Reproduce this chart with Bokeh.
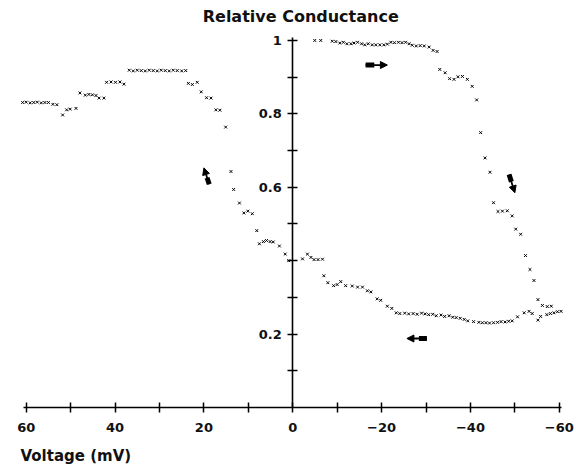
import numpy as np
from bokeh.plotting import figure
from bokeh.models import Range1d, LinearAxis, FixedTicker, Arrow, NormalHead, Title, Label, ColumnDataSource
from bokeh.embed import file_html
from bokeh.resources import INLINE

# ---- data ----
voltage_mV = [
    # left branch (+60 -> 0 mV)
    60.8, 60.0, 59.1, 58.3, 57.5, 56.6, 55.8, 55.0, 54.0, 53.1,
    51.8, 50.9, 50.1, 48.8,
    47.9, 46.7, 45.9, 45.1, 44.3, 43.6, 42.5,
    41.9, 40.9, 39.9, 38.9, 38.0,
    36.8, 35.9, 35.0, 34.1, 33.2, 32.3, 31.4, 30.5, 29.6, 28.7, 27.8, 26.9, 26.0, 25.0, 24.1,
    23.5, 22.6, 21.5, 20.6, 19.4, 18.4, 17.3, 16.4, 15.1,
    13.9, 13.3, 12.0, 11.0, 10.1, 9.1, 8.1, 7.5, 6.6, 5.9, 5.1, 4.4, 3.0, 1.7, 0.9,
    # lower branch (0 -> -60 mV)
    -2.2, -3.3, -4.1, -4.8, -5.7, -6.7, -7.0, -7.9, -9.2, -10.0, -10.8, -11.9, -13.4, -14.6, -15.7,
    -16.8, -17.6, -19.0, -19.8, -21.3, -22.3,
    -23.3, -24.1, -25.2, -26.1, -27.1, -28.0, -29.0, -29.8, -30.6, -31.5, -32.3, -33.4, -34.2,
    -35.2, -36.0, -36.8, -37.7, -38.6, -39.4,
    -40.7, -41.9, -42.7, -43.5, -44.3, -45.2, -46.1, -46.9, -47.8, -48.6, -49.4, -50.6, -52.1,
    -53.2, -53.9, -55.2, -55.8, -57.2, -58.0, -58.8, -59.6, -60.4,
    # upper right branch
    -58.2, -57.3, -56.2, -55.2, -54.3, -53.4, -52.4, -51.3, -50.2, -49.4, -48.3, -47.2, -46.2,
    -45.2, -44.4, -43.3, -42.3, -41.4, -40.4, -39.3, -38.2, -37.2, -36.3, -35.3, -34.3, -33.1,
    -32.5, -31.6, -30.7, -29.6, -28.7, -27.8, -26.9, -26.2, -25.4, -24.6, -23.8, -22.9, -22.1,
    -21.3, -20.5, -19.6, -18.7, -17.9, -17.0, -16.2, -15.5, -14.6, -13.8, -13.1, -12.2, -11.4,
    -10.6, -9.7, -8.9, -6.3, -4.95,
]
rel_conductance = [
    0.831, 0.832, 0.830, 0.831, 0.832, 0.830, 0.831, 0.831, 0.826, 0.825,
    0.797, 0.811, 0.813, 0.815,
    0.857, 0.851, 0.853, 0.852, 0.850, 0.843, 0.843,
    0.886, 0.887, 0.886, 0.887, 0.881,
    0.919, 0.917, 0.919, 0.918, 0.917, 0.919, 0.918, 0.917, 0.919, 0.918, 0.917, 0.919, 0.918, 0.917, 0.918,
    0.883, 0.880, 0.886, 0.860, 0.844, 0.843, 0.811, 0.810, 0.764,
    0.643, 0.594, 0.557, 0.530, 0.535, 0.528, 0.482, 0.446, 0.452, 0.455, 0.452, 0.451, 0.440, 0.418, 0.400,
    0.405, 0.418, 0.409, 0.403, 0.403, 0.404, 0.359, 0.340, 0.332, 0.335, 0.343, 0.332, 0.331, 0.328, 0.328,
    0.318, 0.315, 0.296, 0.292, 0.276, 0.270,
    0.258, 0.256, 0.257, 0.255, 0.256, 0.254, 0.257, 0.255, 0.253, 0.254, 0.250, 0.252, 0.248,
    0.250, 0.246, 0.245, 0.243, 0.240, 0.236,
    0.234, 0.232, 0.231, 0.231, 0.230, 0.231, 0.232, 0.234, 0.233, 0.235, 0.236, 0.247, 0.258,
    0.262, 0.256, 0.238, 0.248, 0.253, 0.256, 0.258, 0.261, 0.262,
    0.276, 0.275, 0.278, 0.294, 0.346, 0.376, 0.414, 0.472, 0.486, 0.522, 0.536, 0.535, 0.534,
    0.558, 0.641, 0.680, 0.749, 0.838, 0.875, 0.894, 0.902, 0.901, 0.894, 0.896, 0.912, 0.921,
    0.970, 0.973, 0.982, 0.985, 0.986, 0.985, 0.987, 0.991, 0.995, 0.994, 0.995, 0.994, 0.995,
    0.990, 0.988, 0.988, 0.988, 0.988, 0.991, 0.988, 0.991, 0.995, 0.993, 0.991, 0.991, 0.995,
    0.993, 0.997, 0.998, 1.000, 1.000,
]

x_tick_major = [60, 40, 20, 0, -20, -40, -60]
x_tick_minor = [50, 30, 10, -10, -30, -50]
y_tick_major = [0.2, 0.6, 0.8, 1.0]
y_tick_minor = [0.1, 0.3, 0.4, 0.5, 0.7, 0.9]

# direction arrows (tail -> tip) along the hysteresis loop
arrow_tail_v = [-16.4, -48.7, -30.2, 18.8]
arrow_tail_g = [0.933, 0.635, 0.188, 0.608]
arrow_tip_v = [-21.3, -50.0, -25.7, 20.0]
arrow_tip_g = [0.933, 0.585, 0.188, 0.653]

title_text = "Relative Conductance"
xlabel_text = "Voltage (mV)"

FONT = "DejaVu Sans"

p = figure(width=574, height=474,
           x_range=Range1d(61.51, -60.95), y_range=Range1d(0, 1.098),
           x_axis_type=None, y_axis_type=None,
           output_backend="svg", toolbar_location=None,
           min_border_left=19, min_border_right=11,
           min_border_top=4, min_border_bottom=0)
p.outline_line_color = None
p.background_fill_color = "white"
p.border_fill_color = "white"

def style_axis(ax):
    ax.axis_line_width = 1.6
    ax.axis_line_color = "black"
    ax.major_tick_line_width = 1.5
    ax.minor_tick_line_width = 1.5
    ax.major_tick_line_color = "black"
    ax.minor_tick_line_color = "black"
    ax.major_tick_in = 5
    ax.major_tick_out = 5
    ax.minor_tick_in = 5
    ax.minor_tick_out = 5
    ax.major_label_text_font = FONT
    ax.major_label_text_font_size = "13px"
    ax.major_label_text_font_style = "bold"
    ax.major_label_text_color = "#111111"

xaxis = LinearAxis(ticker=FixedTicker(ticks=x_tick_major, minor_ticks=x_tick_minor),
                   bounds=(-60.5, 60.7))
style_axis(xaxis)
xaxis.major_label_standoff = 10
p.add_layout(xaxis, "below")

yaxis = LinearAxis(fixed_location=0, bounds=(0, 1.008),
                   ticker=FixedTicker(ticks=y_tick_major, minor_ticks=y_tick_minor),
                   major_label_overrides={1: "1"})
style_axis(yaxis)
yaxis.major_label_standoff = 6
p.add_layout(yaxis, "left")

p.add_layout(Title(text=xlabel_text, align="left", text_font=FONT, text_font_size="15px",
                   text_font_style="bold", text_color="#111111", standoff=20, offset=1), "below")

p.add_layout(Label(x=-1.8, y=1.065, text=title_text, text_align="center", text_baseline="middle",
                   text_font=FONT, text_font_size="16px", text_font_style="bold",
                   text_color="#111111"))

src = ColumnDataSource(dict(v=voltage_mV, g=rel_conductance))
p.scatter("v", "g", source=src, marker="x", size=4, line_color="black", line_width=1)

# arrows: thick tail block + thin shaft with head
tv = np.array(arrow_tail_v); tg = np.array(arrow_tail_g)
hv = np.array(arrow_tip_v); hg = np.array(arrow_tip_g)
mv = tv + 0.4 * (hv - tv); mg = tg + 0.4 * (hg - tg)
p.segment(x0=tv, y0=tg, x1=mv, y1=mg, line_width=5, line_color="black")
for i in range(len(tv)):
    p.add_layout(Arrow(x_start=float(tv[i]), y_start=float(tg[i]),
                       x_end=float(hv[i]), y_end=float(hg[i]),
                       line_width=1.8, line_color="black",
                       end=NormalHead(size=7, fill_color="black", line_color="black")))

open("out.html", "w").write(file_html(p, INLINE))
